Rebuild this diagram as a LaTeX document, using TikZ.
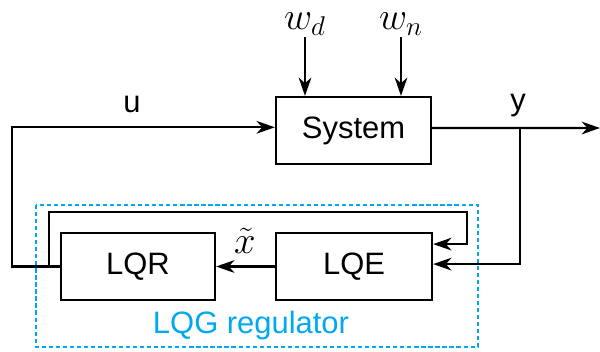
\RequirePackage{fix-cm}
\documentclass[tikz,border=0pt]{standalone}
\usepackage{graphicx}
\usepackage{fontspec}
\setsansfont{Liberation Sans}
\usetikzlibrary{arrows.meta}
\definecolor{lqgblue}{RGB}{0,168,243}
\newcommand{\lblmath}[1]{\scalebox{1.25}{$#1$}}
\tikzset{
    block/.style={draw,line width=1.6pt,minimum height=1.675cm,inner sep=0pt},
    sig/.style={line width=1.6pt},
    lbl/.style={inner sep=2pt}
}
\begin{document}
\begin{tikzpicture}[x=0.025cm,y=-0.025cm,
        font=\sffamily\fontsize{22}{26}\selectfont,
        >={Stealth[length=13pt,width=9pt,inset=4pt]}]
    \useasboundingbox (0,0) rectangle (600,351);
    % blocks
    \node[block,minimum width=3.875cm] (sys) at (353.5,130.5) {System};
    \node[block,minimum width=3.9cm] (lqe) at (354,266.5) {LQE};
    \node[block,minimum width=3.85cm] (lqr) at (138,266.5) {LQR};
    % disturbances
    \node[lbl,inner sep=1pt,above] (wd) at (305,37) {\lblmath{w_d}};
    \node[lbl,inner sep=1pt,above] (wn) at (401,37) {\lblmath{w_n}};
    \draw[sig,->] (wd.south) -- (wd.south |- sys.north);
    \draw[sig,->] (wn.south) -- (wn.south |- sys.north);
    % control signal u
    \coordinate (uleft) at (12,266.5);
    \coordinate (tap) at (49,266.5);
    \draw[sig,->] (lqr.west) -- (uleft) |- ([yshift=0.08cm]sys.west);
    \node[lbl] (lu) at (132,104) {u};
    % output y
    \coordinate (yout) at (600,128);
    \coordinate (ybr) at (520,128);
    \draw[sig,->] ([yshift=0.06cm]sys.east) -- (yout);
    \node[lbl] (ly) at (518,106) {y};
    \draw[sig,->] (ybr) |- ([yshift=0.06cm]lqe.east);
    % u fed back into the estimator
    \coordinate (loop) at (467,212);
    \draw[sig,->] (tap) |- (loop) |- ([yshift=0.56cm]lqe.east);
    % state estimate
    \draw[sig,->] (lqe.west) -- (lqr.east);
    \node[lbl,inner sep=1pt] (lx) at (245,241) {\lblmath{\tilde{x}}};
    % regulator frame
    \draw[lqgblue,line width=1.2pt,dash pattern=on 3pt off 2pt] (36,205) rectangle (478,347);
    \node[lqgblue,lbl] (lqg) at (251,325) {LQG regulator};
\end{tikzpicture}
\end{document}
